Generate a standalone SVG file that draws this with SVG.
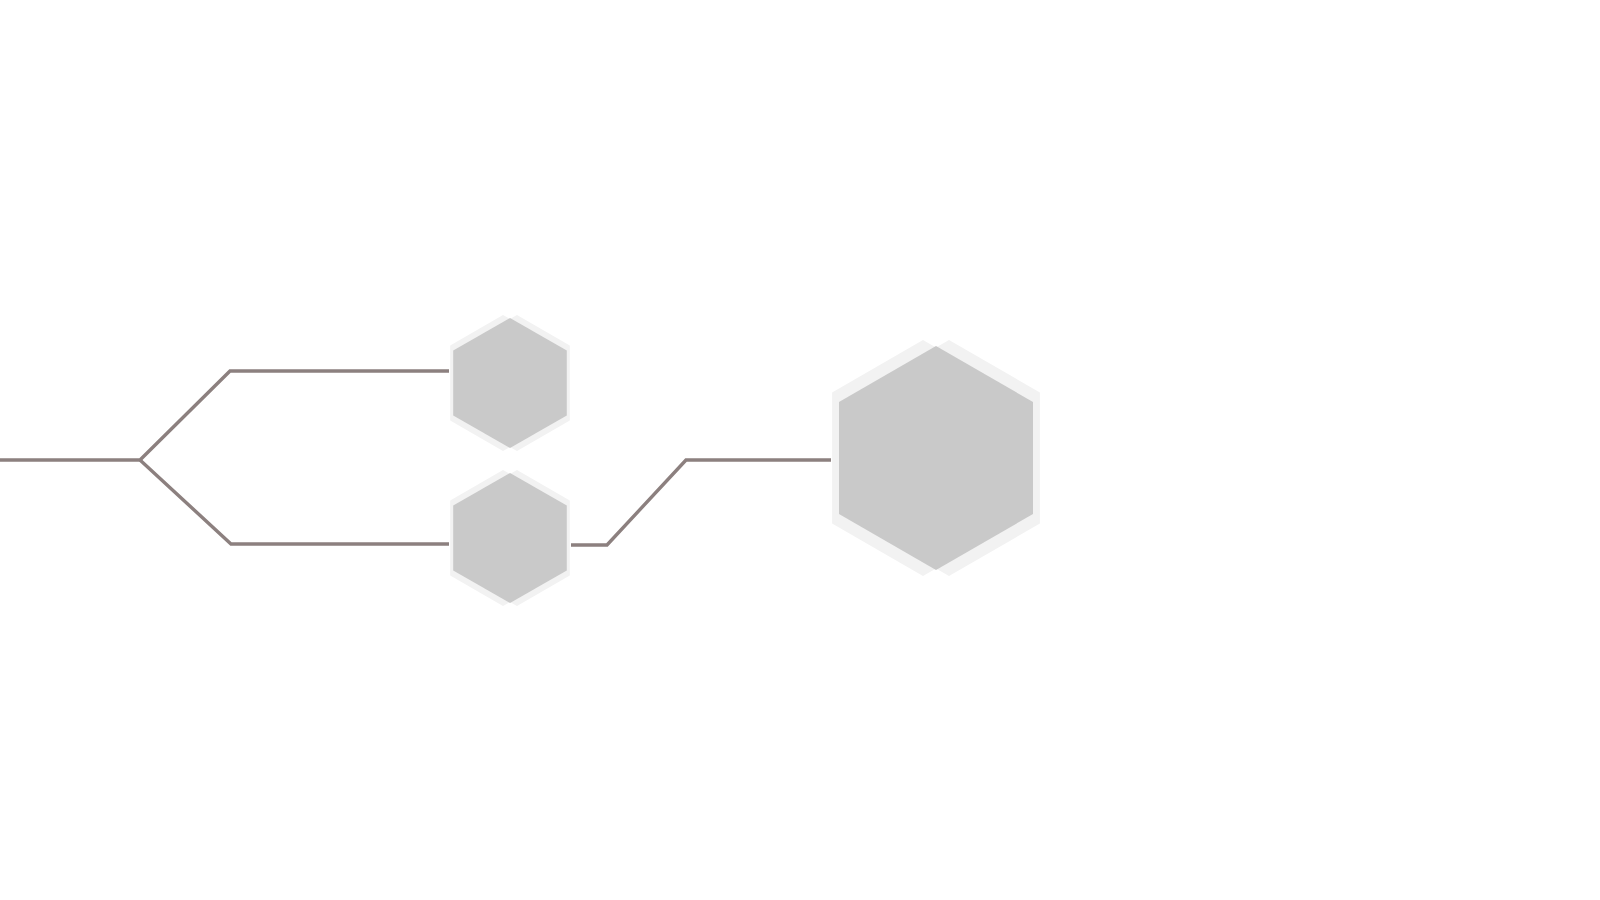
<svg xmlns="http://www.w3.org/2000/svg" width="1600" height="900" viewBox="0 0 1600 900">
  <style>
    .conn { fill: none; stroke: #8c807f; stroke-width: 3.4; stroke-linejoin: miter; }
    .halo { fill: #f2f2f2; stroke: none; }
    .hex { fill: #c9c9c9; stroke: none; }
  </style>
  <rect x="0" y="0" width="1600" height="900" fill="#ffffff"/>
  <g id="connectors">
    <path class="conn" d="M0,460 H140 L230,371 H449"/>
    <path class="conn" d="M140,460 L231,544 H449"/>
    <path class="conn" d="M571,545 H607 L686,460 H831"/>
  </g>
  <g id="node-hex-top">
    <polygon class="halo" points="503,315 510,319 517,315 569.8,345.5 569.8,420.5 517,451 510,447 503,451 450.2,420.5 450.2,345.5"/>
    <polygon class="hex" points="510,318 566.8,350.5 566.8,415.5 510,448 453.2,415.5 453.2,350.5"/>
  </g>
  <g id="node-hex-bottom">
    <polygon class="halo" points="503,470 510,474 517,470 569.8,500.5 569.8,575.5 517,606 510,602 503,606 450.2,575.5 450.2,500.5"/>
    <polygon class="hex" points="510,473 566.8,505.5 566.8,570.5 510,603 453.2,570.5 453.2,505.5"/>
  </g>
  <g id="node-hex-large">
    <polygon class="halo" points="923,340 936,347.5 949,340 1039.9,392.5 1039.9,523.5 949,576 936,568.5 923,576 832.1,523.5 832.1,392.5"/>
    <polygon class="hex" points="936,346 1033,402 1033,514 936,570 839,514 839,402"/>
  </g>
</svg>
